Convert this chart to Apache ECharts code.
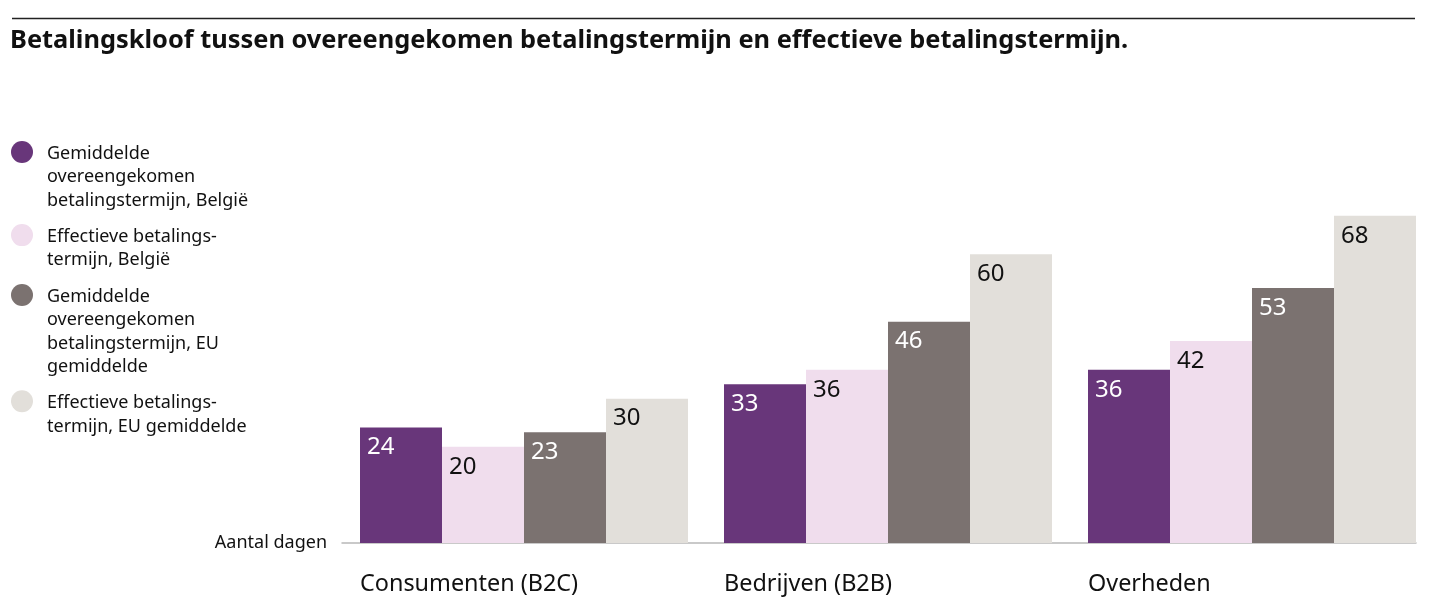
<!DOCTYPE html>
<html>
<head>
<meta charset="utf-8">
<script src="https://cdn.jsdelivr.net/npm/echarts@6/dist/echarts.min.js"></script>
<style>
html,body{margin:0;padding:0;background:#fff;}
#chart{width:1430px;height:606px;}
</style>
</head>
<body>
<div id="chart"></div>
<script>
const titleText = 'Betalingskloof tussen overeengekomen betalingstermijn en effectieve betalingstermijn.';
const categories = ['Consumenten (B2C)', 'Bedrijven (B2B)', 'Overheden'];
const legendLabels = [
  'Gemiddelde\novereengekomen\nbetalingstermijn, België',
  'Effectieve betalings-\ntermijn, België',
  'Gemiddelde\novereengekomen\nbetalingstermijn, EU\ngemiddelde',
  'Effectieve betalings-\ntermijn, EU gemiddelde'
];
const belgieOvereengekomen = [24, 33, 36];
const belgieEffectief = [20, 36, 42];
const euOvereengekomen = [23, 46, 53];
const euEffectief = [30, 60, 68];
const yAxisLabel = 'Aantal dagen';

const seriesValues = [belgieOvereengekomen, belgieEffectief, euOvereengekomen, euEffectief];
const colors = ['#68367a', '#f0dded', '#7b7270', '#e2dfda'];
const labelColors = ['#ffffff', '#111111', '#ffffff', '#111111'];
const FONT = '"Noto Sans", "Open Sans", sans-serif';

const chart = echarts.init(document.getElementById('chart'), null, {renderer: 'canvas'});

// legend drawn as graphic so the marker aligns with the first text line
const legendGraphics = [];
let cy = 152;
const lh = 23.2;
legendLabels.forEach((lab, i) => {
  const n = lab.split('\n').length;
  legendGraphics.push({
    type: 'circle', shape: {cx: 22, cy: cy, r: 11}, style: {fill: colors[i]}, silent: true
  });
  legendGraphics.push({
    type: 'text', x: 47, y: cy - lh / 2 + 2,
    style: {text: lab, font: '18px ' + FONT, lineHeight: lh, fill: '#111', verticalAlign: 'top', align: 'left'},
    silent: true
  });
  cy += n * lh + 13.5;
});

const option = {
  animation: false,
  backgroundColor: '#ffffff',
  title: {
    text: titleText, left: 10, top: 28, padding: 0,
    textStyle: {fontFamily: FONT, fontWeight: 'bold', fontSize: 25.4, color: '#111'}
  },
  graphic: [
    {type: 'line', shape: {x1: 12, y1: 18.5, x2: 1415, y2: 18.5}, style: {stroke: '#222', lineWidth: 1.5}, silent: true}
  ].concat(legendGraphics),
  grid: [
    {left: 342, right: -4, top: 158, bottom: 63, containLabel: false, outerBoundsMode: 'none'},
    {left: 342, right: 14, top: 158, bottom: 63, containLabel: false, outerBoundsMode: 'none'}
  ],
  xAxis: [
    {
      type: 'category', data: categories, gridIndex: 0,
      axisLine: {show: false}, axisTick: {show: false},
      axisLabel: {
        margin: 30, fontFamily: FONT, fontSize: 23.4, color: '#111',
        formatter: v => '{a|' + v + '}',
        rich: {a: {width: 328, align: 'left', fontFamily: FONT, fontSize: 23.4, color: '#111'}}
      }
    },
    {
      type: 'value', gridIndex: 1, min: 0, max: 1,
      axisLine: {show: true, lineStyle: {color: '#b8b8b8', width: 1.5}},
      axisTick: {show: false}, axisLabel: {show: false}, splitLine: {show: false}
    }
  ],
  yAxis: [
    {
      type: 'value', gridIndex: 0, min: 0, max: 80, interval: 80,
      axisLine: {show: false}, axisTick: {show: false}, splitLine: {show: false},
      axisLabel: {
        margin: 15, fontFamily: FONT, fontSize: 18, color: '#111',
        formatter: v => (v === 0 ? yAxisLabel : '')
      }
    },
    {type: 'value', gridIndex: 1, show: false, min: 0, max: 1}
  ],
  series: seriesValues.map((vals, i) => ({
    type: 'bar', name: legendLabels[i].replace(/\n/g, ' '),
    xAxisIndex: 0, yAxisIndex: 0,
    data: vals, barWidth: 82, barGap: '0%',
    itemStyle: {color: colors[i]},
    label: {
      show: true, position: 'insideTopLeft', distance: 8, offset: [-1, 0],
      fontFamily: FONT, fontSize: 24, color: labelColors[i]
    }
  }))
};
chart.setOption(option);
</script>
</body>
</html>
